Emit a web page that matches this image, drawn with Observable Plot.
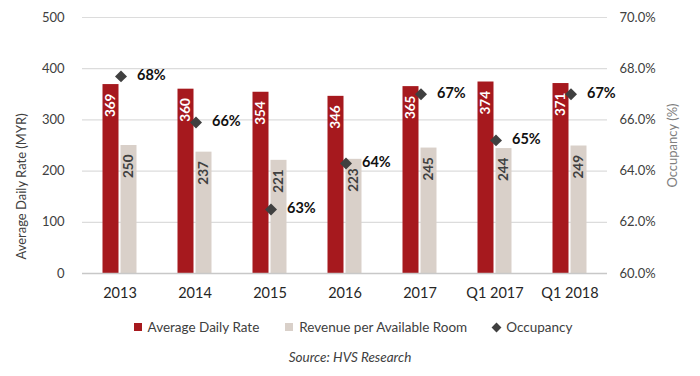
<!DOCTYPE html>
<html><head><meta charset="utf-8">
<script src="https://cdn.jsdelivr.net/npm/d3@7"></script>
<script src="https://cdn.jsdelivr.net/npm/@observablehq/plot@0.6"></script>
<style>
body{margin:0;background:#fff;font-family:Lato,sans-serif;}
#wrap{position:relative;width:700px;height:376px;}
#legend{position:absolute;top:319px;left:0;width:700px;display:flex;justify-content:center;gap:26px;font-size:13.5px;color:#404040;padding-left:6px;box-sizing:border-box;}
#legend span.item{display:flex;align-items:center;gap:6px;}
#legend .sw{display:inline-block;width:8px;height:8px;}
#caption{position:absolute;top:349px;left:0;width:700px;text-align:center;font-size:13.5px;font-style:italic;color:#404040;}
</style></head><body><div id="wrap"><div id="chart"></div><div id="legend"></div><div id="caption"></div></div>
<script>
const categories = ["2013","2014","2015","2016","2017","Q1 2017","Q1 2018"];
const adr = [369,360,354,346,365,374,371];
const revpar = [250,237,221,223,245,244,249];
const occupancy = [67.7,65.9,62.5,64.3,67.0,65.2,67.0];
const yTicks = [0,100,200,300,400,500];
const seriesNames = ["Average Daily Rate","Revenue per Available Room","Occupancy"];
const seriesColors = ["#a6191e","#d9d0c9","#404040"];
const caption = "Source: HVS Research";

const rows = categories.map((c,i)=>({cat:c, adr:adr[i], revpar:revpar[i], occ:occupancy[i]}));
const occToY = o => (o-60)*50;

const chart = Plot.plot({
  width:700, height:310, marginTop:17, marginBottom:37, marginLeft:82, marginRight:93,
  style:{fontFamily:"Lato, sans-serif", background:"white", overflow:"visible"},
  x:{domain:categories, padding:0, label:null},
  y:{domain:[0,500], label:null},
  marks:[
    Plot.ruleY(yTicks.filter(d=>d>0), {stroke:"#dcdcdc", strokeWidth:1.2}),
    Plot.barY(rows, {x:"cat", y:"adr", fill:seriesColors[0], insetLeft:29.5, insetRight:29.5, dx:-9}),
    Plot.barY(rows, {x:"cat", y:"revpar", fill:seriesColors[1], insetLeft:29.5, insetRight:29.5, dx:9}),
    Plot.ruleY([0], {stroke:"#c8c8c8", strokeWidth:1.5}),
    Plot.text(rows, {x:"cat", y:"adr", text:d=>String(d.adr), rotate:-90, textAnchor:"end", dx:-9, dy:9, fill:"white", fontWeight:"bold", fontSize:13.5}),
    Plot.text(rows, {x:"cat", y:"revpar", text:d=>String(d.revpar), rotate:-90, textAnchor:"end", dx:9, dy:9, fill:"#404040", fontWeight:"bold", fontSize:13.5}),
    Plot.dot(rows, {x:"cat", y:d=>occToY(d.occ), symbol:"diamond2", r:5.4, fill:seriesColors[2], stroke:"none", dx:1}),
    Plot.text(rows, {x:"cat", y:d=>occToY(d.occ), text:d=>Math.round(d.occ)+"%", textAnchor:"start", dx:17, dy:-1, fontWeight:"bold", fontSize:14.5, fill:"#111"}),
    Plot.axisY({ticks:yTicks, tickSize:0, tickPadding:18, fontSize:13, color:"#404040", label:null}),
    Plot.axisY({anchor:"right", ticks:yTicks, tickFormat:d=>(60+d/50).toFixed(1)+"%", tickSize:0, tickPadding:12, fontSize:13, color:"#404040", label:null}),
    Plot.axisX({tickSize:0, tickPadding:14, fontSize:14.5, color:"#262626", label:null}),
    Plot.text(["Average Daily Rate (MYR)"], {frameAnchor:"left", textAnchor:"middle", rotate:-90, dx:-61, dy:41, fontSize:13, fill:"#404040"}),
    Plot.text(["Occupancy (%)"], {frameAnchor:"right", textAnchor:"middle", rotate:-90, dx:65, fontSize:13, fill:"#808080"})
  ]
});
document.getElementById("chart").appendChild(chart);

const legend = document.getElementById("legend");
seriesNames.forEach((n,i)=>{
  const item = document.createElement("span"); item.className="item";
  const sw = document.createElement("span"); sw.className="sw";
  sw.style.background = seriesColors[i];
  if(i===2){ sw.style.transform="rotate(45deg)"; sw.style.width="7px"; sw.style.height="7px"; }
  item.appendChild(sw);
  const t = document.createElement("span"); t.textContent=n; item.appendChild(t);
  legend.appendChild(item);
});
document.getElementById("caption").textContent = caption;
</script></body></html>
